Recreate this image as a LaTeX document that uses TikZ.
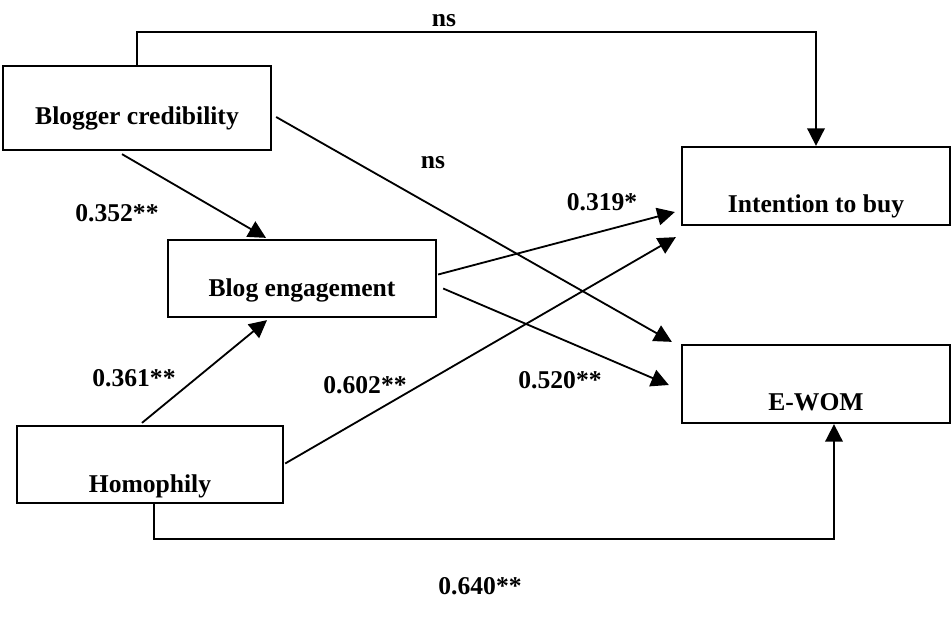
\documentclass[tikz,border=0pt]{standalone}
\usepackage{fontspec}
\setmainfont{Liberation Serif}
\usetikzlibrary{arrows.meta}
\tikzset{
 varbox/.style={draw, line width=1.6pt, inner sep=0pt, minimum width=6.7cm, font=\fontsize{18.2}{21}\selectfont\bfseries},
 link/.style={-{Triangle[length=12.5pt,width=12.5pt]}, line width=1.3pt},
 coef/.style={font=\fontsize{18.2}{21}\selectfont\bfseries}
}
\begin{document}
\begin{tikzpicture}[x=0.025cm,y=-0.025cm]
\useasboundingbox (0,0) rectangle (952,619);
% constructs
\node[varbox, text height=1.45cm, text depth=0.65cm] (cred) at (137,108) {Blogger credibility};
\node[varbox, text height=1.4cm, text depth=0.525cm] (eng) at (302,278.5) {Blog engagement};
\node[varbox, minimum width=6.65cm, text height=1.65cm, text depth=0.275cm] (homo) at (150,464.5) {Homophily};
\node[varbox, text height=1.625cm, text depth=0.325cm] (buy) at (816,186) {Intention to buy};
\node[varbox, text height=1.625cm, text depth=0.325cm] (ewom) at (816,384) {E-WOM};
% paths
\draw[link] (cred.north) -- ++(0,-33) -| (buy.north);
\draw[link] ([shift={(4,9)}]cred.east) -- ([shift={(-9,-2)}]ewom.north west);
\draw[link] ([shift={(-15,3)}]cred.south) -- ([shift={(-36,-1)}]eng.north);
\draw[link] ([shift={(-8,-2)}]homo.north) -- ([shift={(-35,2)}]eng.south);
\draw[link] ([shift={(1,-1)}]homo.east) -- ([shift={(-5,11)}]buy.south west);
\draw[link] ([shift={(1,-4)}]eng.east) -- ([shift={(-6,26)}]buy.west);
\draw[link] ([shift={(6,10)}]eng.east) -- ([shift={(-12,1)}]ewom.west);
\draw[link] ([shift={(4,0)}]homo.south) -- ++(0,35) -| ([shift={(18,0)}]ewom.south);
% coefficients
\node[coef] (c1) at (444,21) {ns};
\node[coef] (c2) at (433,163) {ns};
\node[coef] (c3) at (117,213) {0.352**};
\node[coef] (c4) at (134,378) {0.361**};
\node[coef] (c5) at (365,385) {0.602**};
\node[coef] (c6) at (602,202) {0.319*};
\node[coef] (c7) at (560,380) {0.520**};
\node[coef] (c8) at (480,586) {0.640**};
\end{tikzpicture}
\end{document}
